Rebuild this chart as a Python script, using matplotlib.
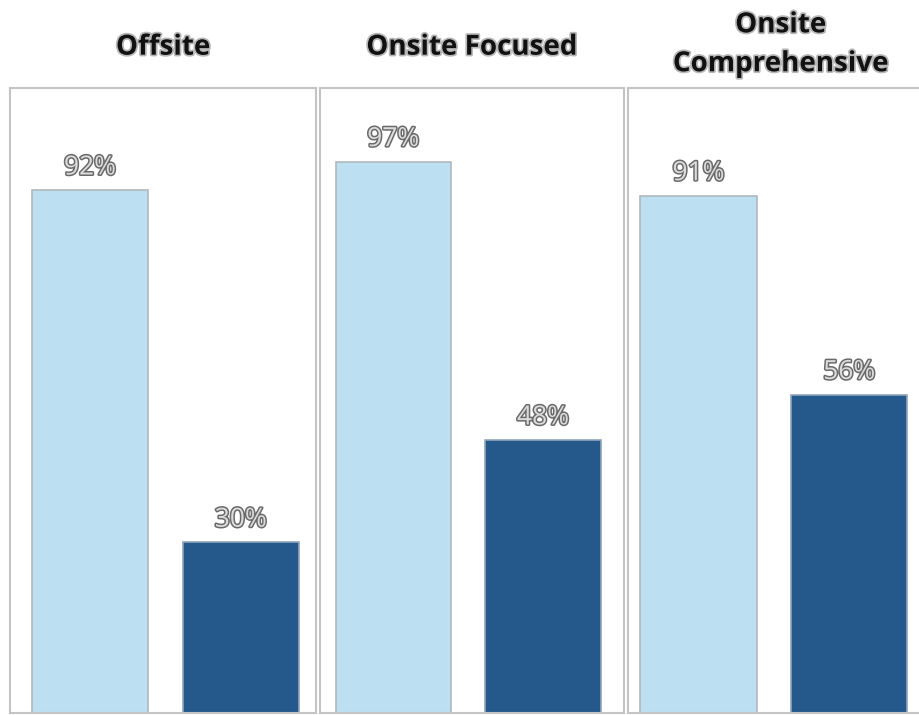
import matplotlib.pyplot as plt
import matplotlib.patheffects as pe

# datos
panels = ["Offsite", "Onsite Focused", "Onsite\nComprehensive"]
before = [92, 97, 91]
after = [30, 48, 56]

light = "#bcdff2"
dark = "#26598b"
frame = "#c4c4c4"

fig = plt.figure(figsize=(9.19, 7.15), dpi=100)

# posiciones de los tres recuadros (fracciones de figura)
lefts = [0.011, 0.348, 0.683]
widths = [0.333, 0.331, 0.333]
xmins = [-0.53, -0.49, -0.47]
bottom, height = 0.003, 0.874

txt_fx = [pe.withStroke(linewidth=2.2, foreground="#6a6a6a")]

for i in range(3):
    ax = fig.add_axes([lefts[i], bottom, widths[i], height])
    vals = [before[i], after[i]]
    ax.bar([0, 1], vals, width=0.77, color=[light, dark],
           edgecolor=["#b0b8bc", "#8fa6bb"], linewidth=1.2)
    ax.set_xlim(xmins[i], xmins[i] + 2.03)
    ax.set_ylim(0, 110)
    ax.set_xticks([])
    ax.set_yticks([])
    for s in ax.spines.values():
        s.set_color(frame)
        s.set_linewidth(1.5)
    for x, v in zip([0, 1], vals):
        ax.annotate(f"{v}%", (x, v), xytext=(0, 7), textcoords="offset points",
                    ha="center", va="bottom", fontsize=19, color="#dcdcdc",
                    family="Open Sans", path_effects=txt_fx)
    ty = 0.061 if "\n" in panels[i] else 0.057
    ax.text(0.5, 1.0 + ty / height, panels[i], transform=ax.transAxes,
            ha="center", va="center", fontsize=20, fontweight="bold",
            family="Open Sans", color="#111111", linespacing=1.45,
            path_effects=[pe.withStroke(linewidth=2.5, foreground="#b8b8b8")])

fig.savefig("out.png", dpi=100)
